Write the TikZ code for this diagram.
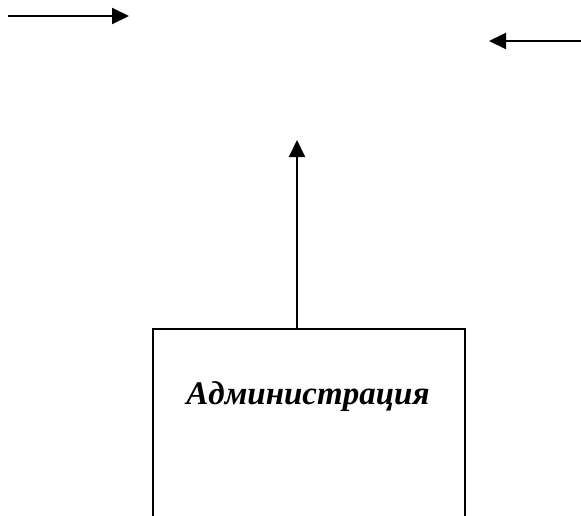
\documentclass[tikz,border=0pt]{standalone}
\usepackage{fontspec}
\setmainfont{Liberation Serif}
\usetikzlibrary{arrows.meta}

\begin{document}
\begin{tikzpicture}[x=1pt,y=1pt]
\tikzstyle{every node}+=[inner sep=0pt]
\tikzstyle{flow}=[line width=2pt,-{Triangle[length=17pt,width=16pt]}]
\useasboundingbox (0,0) rectangle (581,-515);
\clip (0,0) rectangle (581,-515);
\node [draw,line width=2pt,minimum width=312pt,minimum height=230pt,anchor=north] (admin) at (309,-328) {};
\node (admintext) at (308,-397) {\fontsize{33}{40}\selectfont\bfseries\itshape Администрация};
\coordinate (inL) at (8,-16);
\coordinate (inLtip) at (129,-16);
\coordinate (inR) at (581,-41);
\coordinate (inRtip) at (489,-41);
\coordinate (uptip) at (297,-140);
\draw [flow] (inL) -- (inLtip);
\draw [flow] (inR) -- (inRtip);
\draw [flow] (admin.north -| uptip) -- (uptip);
\end{tikzpicture}
\end{document}
